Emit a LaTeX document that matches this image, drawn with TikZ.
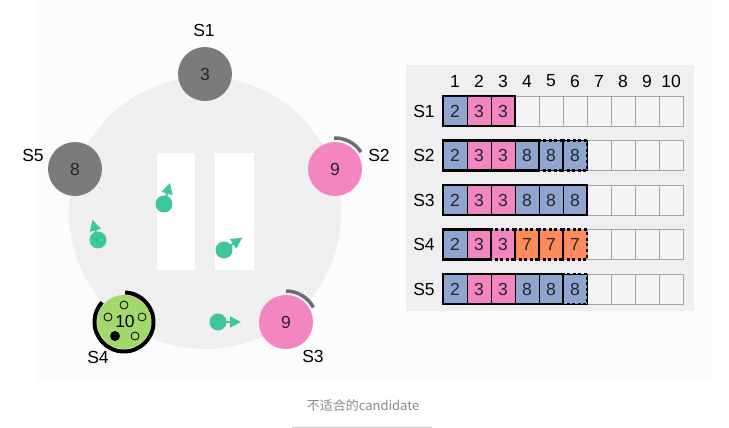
\documentclass[tikz,border=0pt]{standalone}
\usepackage{fontspec}
\setmainfont{Liberation Sans}
\newfontfamily\cjkfont{Noto Sans CJK SC}
\usetikzlibrary{arrows.meta}
\definecolor{srvgray}{HTML}{7B7B7B}
\definecolor{srvpink}{HTML}{F386C0}
\definecolor{srvgreen}{HTML}{A3D86A}
\definecolor{teal}{HTML}{3EC79F}
\definecolor{cblue}{HTML}{8EA5CF}
\definecolor{corange}{HTML}{FF8A5C}
\definecolor{ringgray}{HTML}{6E6E6E}
\definecolor{bigcirc}{HTML}{EFEFF0}
\definecolor{panelbg}{HTML}{EFEFF1}
\definecolor{pagebg}{HTML}{FCFCFC}
\definecolor{emptyfill}{HTML}{F4F4F6}
\definecolor{emptyline}{HTML}{A5A5A5}
\definecolor{captiongray}{HTML}{8A8A8A}
\tikzset{
  server/.style={circle, minimum size=54pt, inner sep=0pt, outer sep=0pt, text=black!85},
  dot/.style={circle, fill=teal, minimum size=17pt, inner sep=0pt, outer sep=0pt},
  moveto/.style={draw=teal, line width=2pt, -{Triangle[length=11pt,width=11pt]}},
  slot/.style={circle, draw=black, line width=0.8pt, minimum size=8pt, inner sep=0pt},
  emptycell/.style={rectangle, draw=emptyline, fill=emptyfill, line width=0.9pt, minimum width=24pt, minimum height=30pt, inner sep=0pt, outer sep=0pt},
  fullcell/.style={rectangle, draw=black, line width=0.9pt, minimum width=24pt, minimum height=30pt, inner sep=0pt, outer sep=0pt, text=black!85},
  solidgrp/.style={draw=black, line width=2.4pt},
  dashgrp/.style={draw=black, line width=2.2pt, dash pattern=on 3pt off 2.6pt},
  lbl/.style={text=black}
}
\begin{document}
\begin{tikzpicture}[x=1pt,y=1pt,font=\fontsize{17.5}{20}\selectfont]
\useasboundingbox (0,0) rectangle (729,-428);
% page tint
\fill[pagebg] (35,0) rectangle (712,-382);
% big ring
\fill[bigcirc] (205,-213) circle[radius=136];
\fill[white] (157,-153) rectangle (195,-270);
\fill[white] (215,-153) rectangle (254,-270);

% servers
\node[server, fill=srvgray] (s1) at (205,-74) {3};
\node[server, fill=srvgray] (s5) at (75,-169) {8};
\node[server, fill=srvpink] (s2) at (335,-169) {9};
\node[server, fill=srvpink] (s3) at (286,-322) {9};
\node[server, fill=srvgreen] (s4) at (124,-322) {};
\node (s4t) at (125,-321) {10};

\node[lbl] (l1) at (204,-30) {S1};
\node[lbl] (l5) at (33,-155) {S5};
\node[lbl] (l2) at (379,-155) {S2};
\node[lbl] (l3) at (313,-356) {S3};
\node[lbl] (l4) at (98,-357) {S4};

% timers
\draw[ringgray, line width=3.5pt] ([shift={(92:31)}]s2.center) arc[start angle=92, end angle=33, radius=31];
\draw[ringgray, line width=3.5pt] ([shift={(90:31)}]s3.center) arc[start angle=90, end angle=28, radius=31];
\draw[black, line width=4pt] ([shift={(88:29.5)}]s4.center) arc[start angle=88, end angle=-222, radius=29.5];

% votes in S4
\node[slot] (v1) at ([shift={(0,17)}]s4.center) {};
\node[slot] (v2) at ([shift={(-16,5)}]s4.center) {};
\node[slot] (v3) at ([shift={(18,5)}]s4.center) {};
\node[slot] (v4) at ([shift={(11,-14)}]s4.center) {};
\node[slot, fill=black, minimum size=9pt] (v5) at ([shift={(-9,-14)}]s4.center) {};

% messages
\node[dot] (m1) at (164,-204) {};
\coordinate (t1) at ([shift={(74:22)}]m1.center);
\draw[moveto] (m1.center) -- (t1);
\node[dot] (m2) at (98,-240) {};
\coordinate (t2) at ([shift={(105:21)}]m2.center);
\draw[moveto] (m2.center) -- (t2);
\node[dot] (m3) at (224,-250) {};
\coordinate (t3) at ([shift={(34:22)}]m3.center);
\draw[moveto] (m3.center) -- (t3);
\node[dot] (m4) at (218,-322) {};
\coordinate (t4) at ([shift={(0:23)}]m4.center);
\draw[moveto] (m4.center) -- (t4);

% log panel
\fill[panelbg] (406,-65) rectangle (694,-311);
\foreach \c in {1,...,10} \node (h\c) at ({455+24*(\c-1)},-81) {\c};
\foreach \r/\y in {1/111,2/155.5,3/200,4/244.5,5/289}{
  \node (rl\r) at (424,-\y) {S\r};
  \foreach \c in {1,...,10} \node[emptycell] (r\r-\c) at ({455+24*(\c-1)},-\y) {};
}
\foreach \r/\c/\v/\col in {
  1/1/2/cblue,1/2/3/srvpink,1/3/3/srvpink,
  2/1/2/cblue,2/2/3/srvpink,2/3/3/srvpink,2/4/8/cblue,2/5/8/cblue,2/6/8/cblue,
  3/1/2/cblue,3/2/3/srvpink,3/3/3/srvpink,3/4/8/cblue,3/5/8/cblue,3/6/8/cblue,
  4/1/2/cblue,4/2/3/srvpink,
  5/1/2/cblue,5/2/3/srvpink,5/3/3/srvpink,5/4/8/cblue,5/5/8/cblue,5/6/8/cblue}
  \node[fullcell, fill=\col] (e\r-\c) at (r\r-\c) {\v};
\foreach \r/\c/\v/\col in {4/3/3/srvpink,4/4/7/corange,4/5/7/corange,4/6/7/corange}
  \node[rectangle, fill=\col, minimum width=24pt, minimum height=30pt, inner sep=0pt, outer sep=0pt, text=black!85] (e\r-\c) at (r\r-\c) {\v};
% uncommitted entries
\foreach \r/\c in {2/5,2/6,4/3,4/4,4/5,4/6,5/6}
  \draw[dashgrp] (e\r-\c.north west) rectangle (e\r-\c.south east);
% committed entries
\draw[solidgrp] (e1-1.north west) rectangle (e1-3.south east);
\draw[solidgrp] (e2-1.north west) rectangle (e2-4.south east);
\draw[solidgrp] (e3-1.north west) rectangle (e3-6.south east);
\draw[solidgrp] (e4-1.north west) rectangle (e4-2.south east);
\draw[solidgrp] (e5-1.north west) rectangle (e5-5.south east);

% caption
\node[font=\cjkfont\fontsize{13}{15}\selectfont, text=captiongray] (cap) at (363,-406) {不适合的candidate};
\draw[black!20, line width=0.8pt] (292,-427) -- (432,-427);
\end{tikzpicture}
\end{document}
